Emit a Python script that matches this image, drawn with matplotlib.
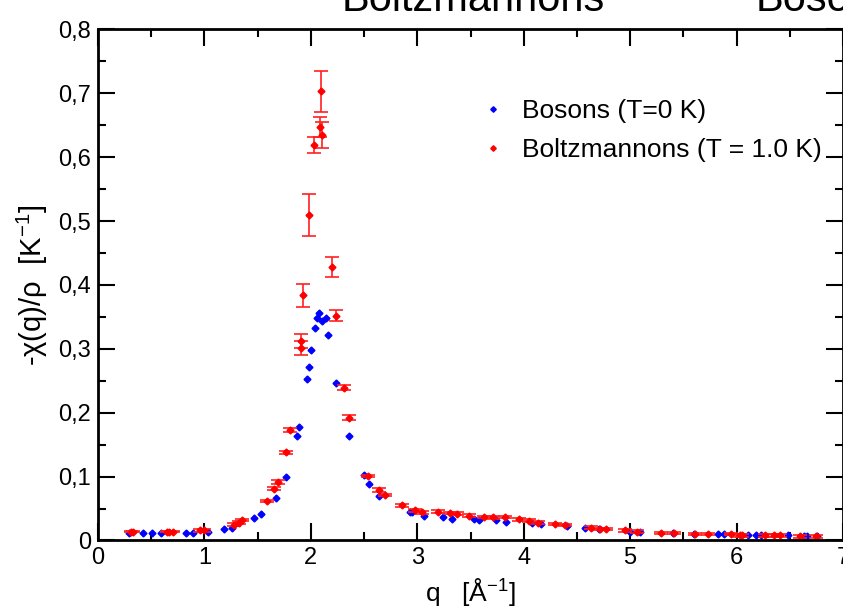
import numpy as np
import matplotlib
matplotlib.use('Agg')
import matplotlib.pyplot as plt
from matplotlib.ticker import FuncFormatter, MultipleLocator

# Bosons, T = 0 K
bos_q = [0.29, 0.42, 0.51, 0.59, 0.83, 0.89, 1.03, 1.18, 1.26, 1.47, 1.53,
         1.67, 1.77, 1.87, 1.89, 1.96, 1.98, 2.00, 2.035, 2.06, 2.08, 2.107,
         2.138, 2.16, 2.24, 2.355, 2.50, 2.55, 2.64, 2.93, 2.95, 3.06, 3.24,
         3.33, 3.53, 3.58, 3.74, 3.83, 4.08, 4.16, 4.41, 4.58, 4.71, 5.00,
         5.09, 5.40, 5.60, 5.83, 5.88, 6.11, 6.18, 6.23, 6.48, 6.63, 6.66, 6.76]
bos_chi = [0.012, 0.012, 0.012, 0.012, 0.012, 0.012, 0.013, 0.018, 0.020, 0.035, 0.041,
           0.066, 0.100, 0.163, 0.178, 0.253, 0.272, 0.298, 0.333, 0.348, 0.356, 0.344,
           0.348, 0.321, 0.247, 0.163, 0.102, 0.088, 0.070, 0.044, 0.044, 0.039, 0.036,
           0.033, 0.033, 0.032, 0.032, 0.029, 0.028, 0.026, 0.022, 0.020, 0.018, 0.014,
           0.014, 0.012, 0.010, 0.010, 0.010, 0.008, 0.008, 0.008, 0.008, 0.0065, 0.0065, 0.0065]

# Boltzmannons, T = 1.0 K
bol_q = [0.31, 0.33, 0.65, 0.67, 0.70, 0.96, 1.00, 1.28, 1.32, 1.35, 1.59,
         1.65, 1.69, 1.77, 1.80, 1.907, 1.91, 1.93, 1.982, 2.025, 2.085, 2.095,
         2.104, 2.195, 2.236, 2.311, 2.358, 2.54, 2.64, 2.70, 2.86, 2.98, 3.04,
         3.19, 3.31, 3.37, 3.49, 3.63, 3.71, 3.82, 3.96, 4.05, 4.13, 4.29, 4.39,
         4.63, 4.72, 4.77, 4.95, 5.06, 5.29, 5.41, 5.61, 5.73, 5.95, 6.03, 6.05,
         6.27, 6.35, 6.41, 6.60, 6.75]
bol_chi = [0.014, 0.014, 0.014, 0.014, 0.014, 0.016, 0.016, 0.025, 0.028, 0.032, 0.062,
           0.081, 0.091, 0.138, 0.173, 0.312, 0.302, 0.384, 0.510, 0.619, 0.647, 0.703,
           0.635, 0.428, 0.352, 0.239, 0.192, 0.101, 0.079, 0.071, 0.055, 0.047, 0.044,
           0.045, 0.043, 0.042, 0.039, 0.037, 0.036, 0.037, 0.033, 0.031, 0.028, 0.026, 0.024,
           0.020, 0.018, 0.018, 0.016, 0.014, 0.012, 0.012, 0.010, 0.010, 0.010, 0.008, 0.008,
           0.008, 0.008, 0.008, 0.0065, 0.0065]
bol_err = [0.001, 0.001, 0.001, 0.001, 0.001, 0.002, 0.002, 0.002, 0.002, 0.002, 0.002,
           0.002, 0.003, 0.002, 0.003, 0.011, 0.011, 0.018, 0.033, 0.013, 0.016, 0.032,
           0.020, 0.016, 0.009, 0.004, 0.004, 0.002, 0.003, 0.002, 0.002, 0.002, 0.002,
           0.002, 0.002, 0.002, 0.002, 0.002, 0.002, 0.002, 0.002, 0.002, 0.002, 0.002, 0.002,
           0.002, 0.002, 0.002, 0.002, 0.002, 0.002, 0.002, 0.002, 0.002, 0.002, 0.002, 0.002,
           0.002, 0.002, 0.002, 0.002, 0.002]

plt.rcParams['font.family'] = ['Liberation Sans', 'DejaVu Sans']
plt.rcParams['mathtext.fontset'] = 'custom'
plt.rcParams['mathtext.rm'] = 'Liberation Sans'

fig = plt.figure(figsize=(8.43, 6.13), dpi=100)
ax = fig.add_axes([0.1163, 0.1183, 0.8837, 0.8336])

ax.plot(bos_q, bos_chi, 'D', color='#0000ff', ms=3.5, mec='#0000ff',
        label='Bosons (T=0 K)')
ax.errorbar(bol_q, bol_chi, yerr=bol_err, fmt='D', color='#ff0000', ms=3.5,
            ecolor='#ff2020', elinewidth=1.2, capsize=5, capthick=1.2,
            label='Boltzmannons (T = 1.0 K)')

ax.set_xlim(0, 7)
ax.set_ylim(0, 0.8)
ax.xaxis.set_major_locator(MultipleLocator(1))
ax.xaxis.set_minor_locator(MultipleLocator(0.5))
ax.yaxis.set_major_locator(MultipleLocator(0.1))
ax.yaxis.set_minor_locator(MultipleLocator(0.05))
ax.yaxis.set_major_formatter(FuncFormatter(
    lambda v, p: '0' if abs(v) < 1e-9 else ('%.1f' % v).replace('.', ',')))
ax.xaxis.set_major_formatter(FuncFormatter(lambda v, p: '%d' % round(v)))

ax.tick_params(which='both', direction='in', top=True, right=True, width=1.5,
               labelsize=17, pad=5)
ax.tick_params(which='major', length=12)
ax.tick_params(which='minor', length=6)
for s in ax.spines.values():
    s.set_linewidth(2)

ax.set_xlabel('q   [Å$^{-1}$]', fontsize=19, labelpad=5)
ax.set_ylabel('-χ(q)/ρ  [K$^{-1}$]', fontsize=21, labelpad=6)

h, l = ax.get_legend_handles_labels()
ax.legend([h[0], h[1][0]], l, loc='upper left', bbox_to_anchor=(0.48, 0.91),
          frameon=False, fontsize=19, handlelength=1.0, handletextpad=0.6,
          labelspacing=0.55, markerscale=0.8)

# cut-off titles at the top edge
fig.text(0.405, 0.982, 'Boltzmannons', fontsize=30, va='baseline', ha='left')
fig.text(0.896, 0.982, 'Bosons', fontsize=30, va='baseline', ha='left')

fig.savefig('out.png', dpi=100)
